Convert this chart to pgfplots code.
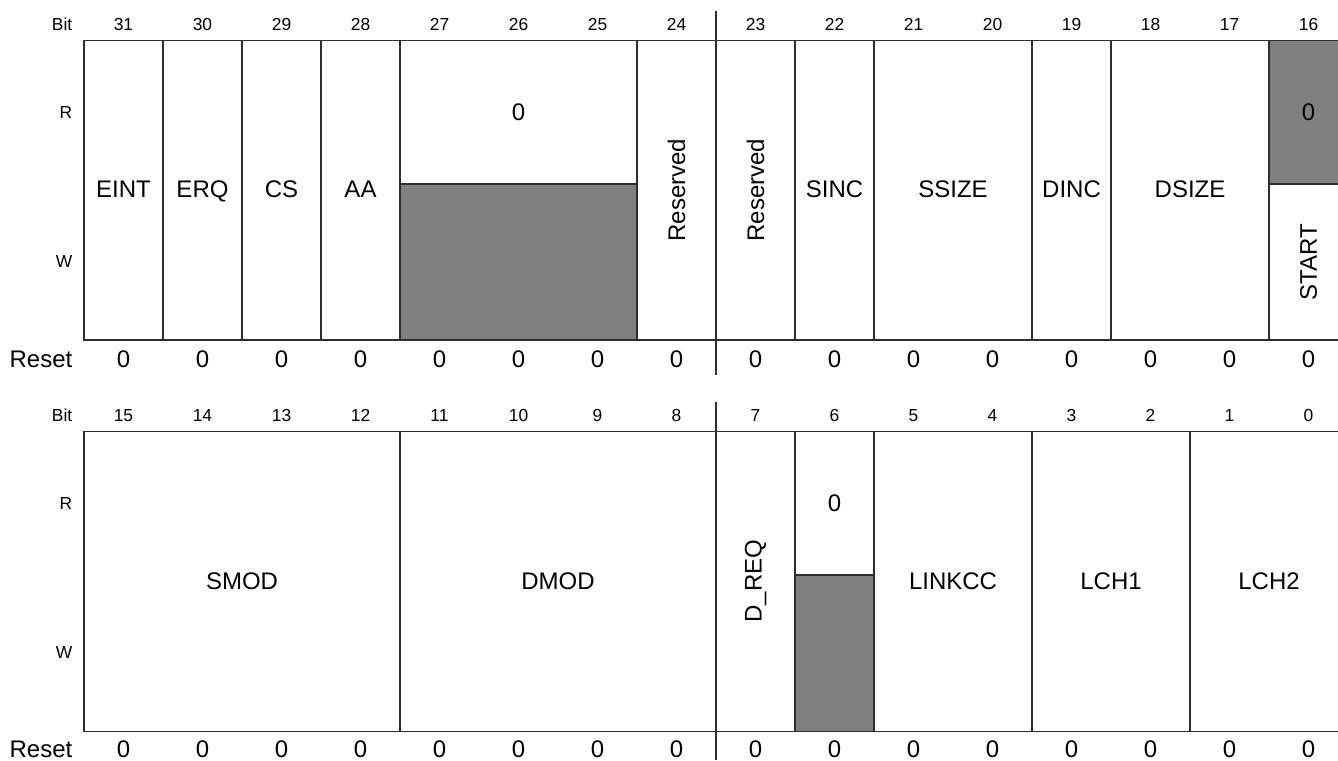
\documentclass[border=0pt]{standalone}
\usepackage{fontspec}
\setmainfont{Liberation Sans}
\usepackage{pgfplots}
\pgfplotsset{compat=1.18}
\definecolor{fillgray}{HTML}{808080}
\definecolor{linec}{HTML}{2E2E2E}
\newcommand{\sm}{\fontsize{8.7}{10}\selectfont}
\newcommand{\bg}{\fontsize{12}{14}\selectfont}
\begin{document}
\begin{tikzpicture}
\begin{axis}[width=669pt,height=380pt,scale only axis,hide axis,
  xmin=-1.06329,xmax=15.87342,ymin=0,ymax=760,y dir=reverse,clip=false]
\coordinate (SW) at (rel axis cs:0,0);
\coordinate (NE) at (rel axis cs:1,1);
% ---------- grey (non-writable / read-only) areas
\addplot[fill=fillgray,draw=none] coordinates {(4,184) (7,184) (7,340) (4,340)} --cycle;
\addplot[fill=fillgray,draw=none] coordinates {(15,40.5) (15.873,40.5) (15.873,184) (15,184)} --cycle;
\addplot[fill=fillgray,draw=none] coordinates {(9,575) (10,575) (10,731.7) (9,731.7)} --cycle;
% ---------- top register frame
\addplot[draw=linec,line width=0.65pt] coordinates {(15.873,40.5) (0,40.5) (0,340) (15.873,340)};
\addplot[draw=linec,line width=0.65pt] coordinates {(1,40.5) (1,340)};
\addplot[draw=linec,line width=0.65pt] coordinates {(2,40.5) (2,340)};
\addplot[draw=linec,line width=0.65pt] coordinates {(3,40.5) (3,340)};
\addplot[draw=linec,line width=0.65pt] coordinates {(4,40.5) (4,340)};
\addplot[draw=linec,line width=0.65pt] coordinates {(7,40.5) (7,340)};
\addplot[draw=linec,line width=0.65pt] coordinates {(8,11) (8,375)};
\addplot[draw=linec,line width=0.65pt] coordinates {(9,40.5) (9,340)};
\addplot[draw=linec,line width=0.65pt] coordinates {(10,40.5) (10,340)};
\addplot[draw=linec,line width=0.65pt] coordinates {(12,40.5) (12,340)};
\addplot[draw=linec,line width=0.65pt] coordinates {(13,40.5) (13,340)};
\addplot[draw=linec,line width=0.65pt] coordinates {(15,40.5) (15,340)};
\addplot[draw=linec,line width=0.65pt] coordinates {(4,184) (7,184)};
\addplot[draw=linec,line width=0.65pt] coordinates {(15,184) (15.873,184)};
% ---------- bottom register frame
\addplot[draw=linec,line width=0.65pt] coordinates {(15.873,431.7) (0,431.7) (0,731.7) (15.873,731.7)};
\addplot[draw=linec,line width=0.65pt] coordinates {(4,431.7) (4,731.7)};
\addplot[draw=linec,line width=0.65pt] coordinates {(8,402) (8,760)};
\addplot[draw=linec,line width=0.65pt] coordinates {(9,431.7) (9,731.7)};
\addplot[draw=linec,line width=0.65pt] coordinates {(10,431.7) (10,731.7)};
\addplot[draw=linec,line width=0.65pt] coordinates {(12,431.7) (12,731.7)};
\addplot[draw=linec,line width=0.65pt] coordinates {(14,431.7) (14,731.7)};
\addplot[draw=linec,line width=0.65pt] coordinates {(9,575) (10,575)};
% ---------- row headings
\node[anchor=base east,inner sep=0,font=\sm] at (axis cs:-0.143,30.2) {Bit};
\node[anchor=base east,inner sep=0,font=\sm] at (axis cs:-0.143,118.2) {R};
\node[anchor=base east,inner sep=0,font=\sm] at (axis cs:-0.143,267.2) {W};
\node[anchor=base east,inner sep=0,font=\bg] at (axis cs:-0.143,367.5) {Reset};
\node[anchor=base east,inner sep=0,font=\sm] at (axis cs:-0.143,421.5) {Bit};
\node[anchor=base east,inner sep=0,font=\sm] at (axis cs:-0.143,509.2) {R};
\node[anchor=base east,inner sep=0,font=\sm] at (axis cs:-0.143,658.2) {W};
\node[anchor=base east,inner sep=0,font=\bg] at (axis cs:-0.143,757.8) {Reset};
% ---------- bit numbers (top)
\addplot[only marks,mark=none,nodes near coords,point meta=explicit symbolic,
  every node near coord/.append style={anchor=base,inner sep=0,font=\sm}]
  coordinates {(0.5,30.2)[31] (1.5,30.2)[30] (2.5,30.2)[29] (3.5,30.2)[28] (4.5,30.2)[27] (5.5,30.2)[26] (6.5,30.2)[25] (7.5,30.2)[24]
               (8.5,30.2)[23] (9.5,30.2)[22] (10.5,30.2)[21] (11.5,30.2)[20] (12.5,30.2)[19] (13.5,30.2)[18] (14.5,30.2)[17] (15.5,30.2)[16]
               (0.5,421.5)[15] (1.5,421.5)[14] (2.5,421.5)[13] (3.5,421.5)[12] (4.5,421.5)[11] (5.5,421.5)[10] (6.5,421.5)[9] (7.5,421.5)[8]
               (8.5,421.5)[7] (9.5,421.5)[6] (10.5,421.5)[5] (11.5,421.5)[4] (12.5,421.5)[3] (13.5,421.5)[2] (14.5,421.5)[1] (15.5,421.5)[0]};
% ---------- reset values
\addplot[only marks,mark=none,nodes near coords,point meta=explicit symbolic,
  every node near coord/.append style={anchor=base,inner sep=0,font=\bg}]
  coordinates {(0.5,367.5)[0] (1.5,367.5)[0] (2.5,367.5)[0] (3.5,367.5)[0] (4.5,367.5)[0] (5.5,367.5)[0] (6.5,367.5)[0] (7.5,367.5)[0]
               (8.5,367.5)[0] (9.5,367.5)[0] (10.5,367.5)[0] (11.5,367.5)[0] (12.5,367.5)[0] (13.5,367.5)[0] (14.5,367.5)[0] (15.5,367.5)[0]
               (0.5,757.8)[0] (1.5,757.8)[0] (2.5,757.8)[0] (3.5,757.8)[0] (4.5,757.8)[0] (5.5,757.8)[0] (6.5,757.8)[0] (7.5,757.8)[0]
               (8.5,757.8)[0] (9.5,757.8)[0] (10.5,757.8)[0] (11.5,757.8)[0] (12.5,757.8)[0] (13.5,757.8)[0] (14.5,757.8)[0] (15.5,757.8)[0]};
% ---------- field names (top)
\node[anchor=base,inner sep=0,font=\bg] at (axis cs:0.5,197) {EINT};
\node[anchor=base,inner sep=0,font=\bg] at (axis cs:1.5,197) {ERQ};
\node[anchor=base,inner sep=0,font=\bg] at (axis cs:2.5,197) {CS};
\node[anchor=base,inner sep=0,font=\bg] at (axis cs:3.5,197) {AA};
\node[anchor=base,inner sep=0,font=\bg] at (axis cs:5.5,120) {0};
\node[inner sep=0,font=\bg,rotate=90] at (axis cs:7.5,190) {Reserved};
\node[inner sep=0,font=\bg,rotate=90] at (axis cs:8.5,190) {Reserved};
\node[anchor=base,inner sep=0,font=\bg] at (axis cs:9.5,197) {SINC};
\node[anchor=base,inner sep=0,font=\bg] at (axis cs:11,197) {SSIZE};
\node[anchor=base,inner sep=0,font=\bg] at (axis cs:12.5,197) {DINC};
\node[anchor=base,inner sep=0,font=\bg] at (axis cs:14,197) {DSIZE};
\node[anchor=base,inner sep=0,font=\bg] at (axis cs:15.5,120) {0};
\node[inner sep=0,font=\bg,rotate=90] at (axis cs:15.5,262) {START};
% ---------- field names (bottom)
\node[anchor=base,inner sep=0,font=\bg] at (axis cs:2,589) {SMOD};
\node[anchor=base,inner sep=0,font=\bg] at (axis cs:6,589) {DMOD};
\node[inner sep=0,font=\bg,rotate=90] at (axis cs:8.5,581) {D\_REQ};
\node[anchor=base,inner sep=0,font=\bg] at (axis cs:9.5,511) {0};
\node[anchor=base,inner sep=0,font=\bg] at (axis cs:11,589) {LINKCC};
\node[anchor=base,inner sep=0,font=\bg] at (axis cs:13,589) {LCH1};
\node[anchor=base,inner sep=0,font=\bg] at (axis cs:15,589) {LCH2};
\end{axis}
\pgfresetboundingbox
\path (SW) rectangle (NE);
\end{tikzpicture}
\end{document}
